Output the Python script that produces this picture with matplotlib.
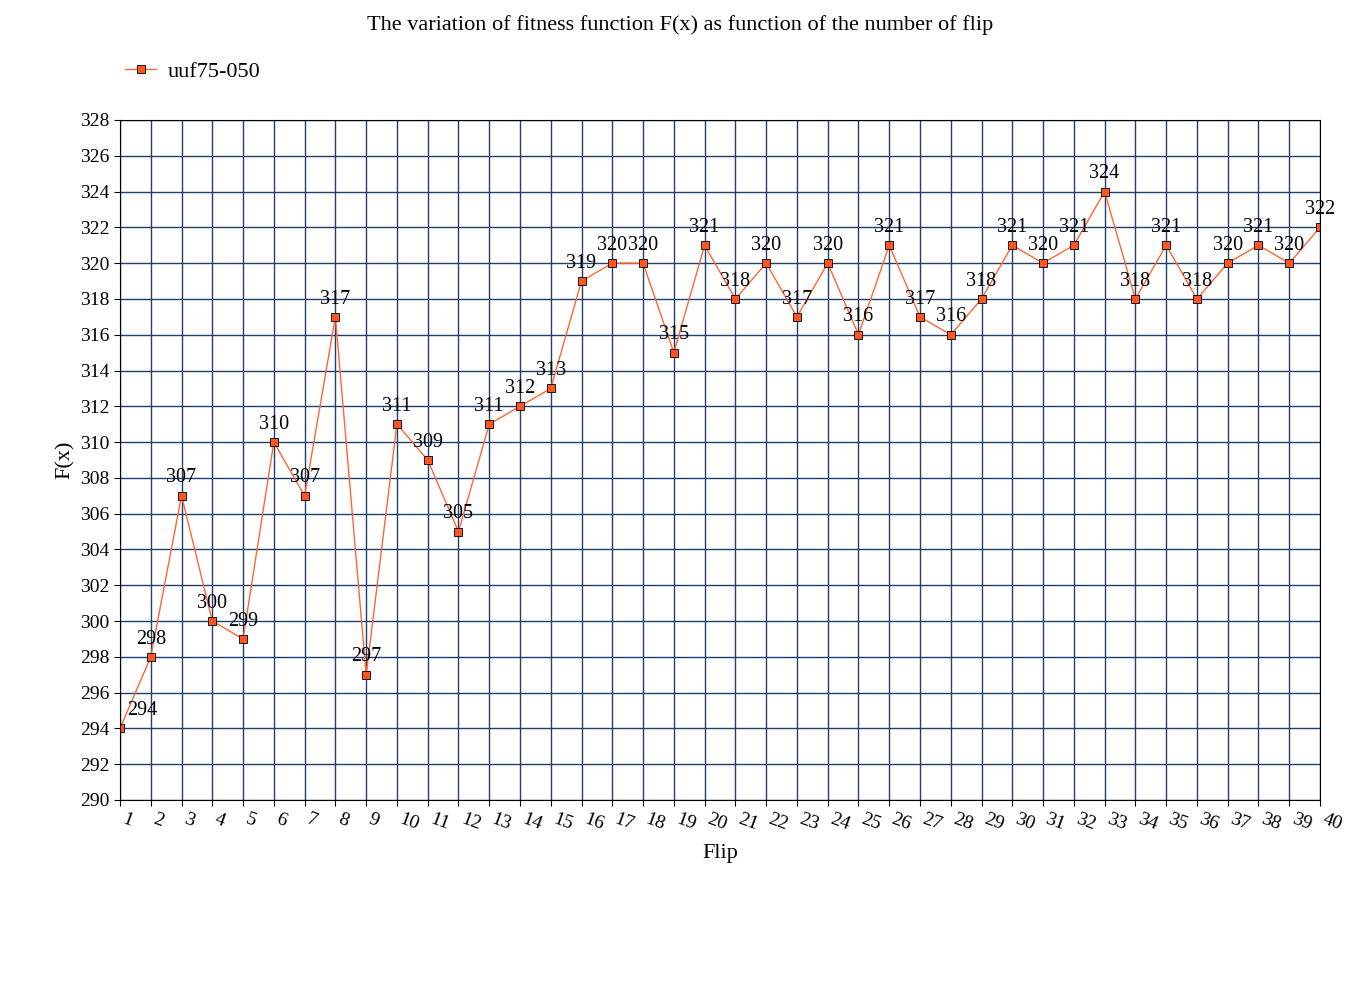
import matplotlib
matplotlib.use("Agg")
import matplotlib.pyplot as plt

flips = list(range(1, 41))
fx = [294, 298, 307, 300, 299, 310, 307, 317, 297, 311, 309, 305, 311, 312, 313, 319,
      320, 320, 315, 321, 318, 320, 317, 320, 316, 321, 317, 316, 318, 321, 320, 321,
      324, 318, 321, 318, 320, 321, 320, 322]
series_name = "uuf75-050"

plt.rcParams['font.family'] = ['Liberation Serif', 'DejaVu Serif']
fig = plt.figure(figsize=(13.6, 10), dpi=100)
ax = fig.add_axes([120/1360, 0.2, 1200/1360, 0.68])
line, = ax.plot(flips, fx, color='#ff6633', lw=1, marker='s', ms=6,
                mfc='#ff5522', mec='#000000', mew=0.6, label=series_name)
for x, y in zip(flips, fx):
    dx = 16 if x == 1 else 0
    ax.annotate(str(y), (x, y), xytext=(dx, 6), textcoords='offset points',
                ha='center', va='bottom', fontsize=14.5)
ax.set_xlim(1, 40)
ax.set_ylim(290, 328)
ax.set_xticks(flips)
ax.set_yticks(range(290, 329, 2))
ax.grid(True, color='#1f3f6f', lw=1)
ax.set_axisbelow(True)
ax.tick_params(labelsize=14, length=4)
for lbl in ax.get_xticklabels():
    lbl.set_rotation(-20)
    lbl.set_ha('left')
    lbl.set_va('top')
ax.set_xlabel("Flip", fontsize=16, labelpad=8)
ax.set_ylabel("F(x)", fontsize=16)
fig.text(0.5, 0.985, "The variation of fitness function F(x) as function of the number of flip",
         ha='center', va='top', fontsize=16)
fig.legend(handles=[line], loc='center left', bbox_to_anchor=(105/1360, 1-72/1000),
           frameon=False, fontsize=16, handlelength=1.4, handletextpad=0.5)
fig.savefig("out.png", dpi=100)
